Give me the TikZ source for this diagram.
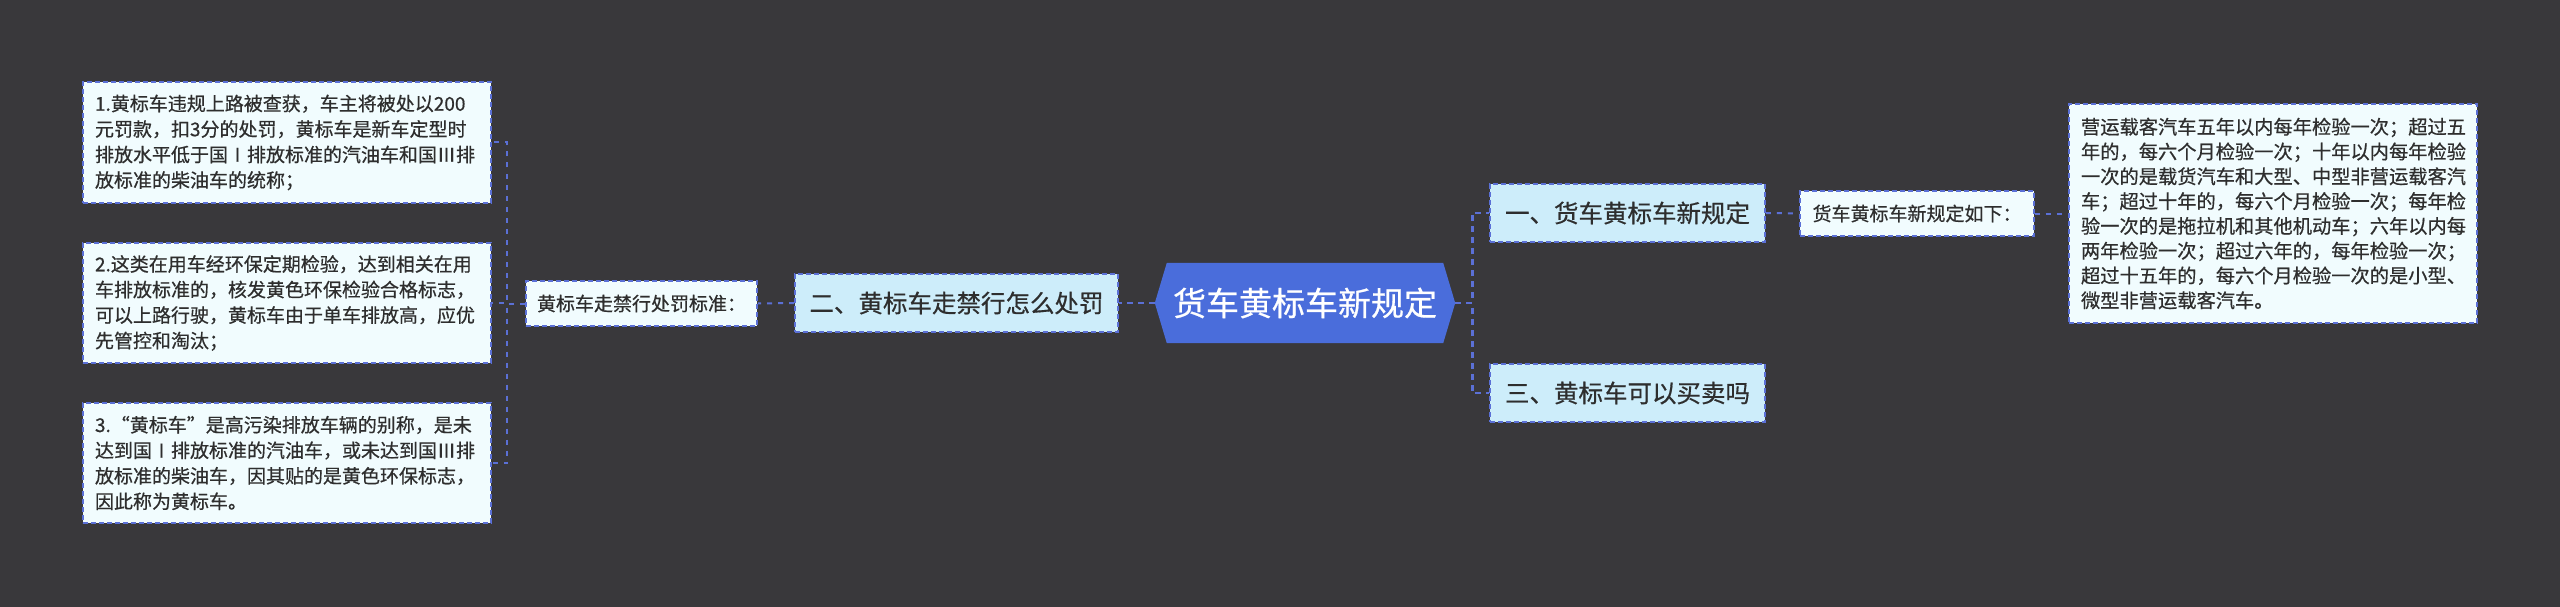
\documentclass[tikz,border=0pt]{standalone}
\usepackage{fontspec}
\setmainfont{Noto Sans CJK SC}[UprightFeatures={FakeBold=0.6}]
\newcommand\fwbox[2]{\makebox[1em][#1]{#2}}
\usetikzlibrary{backgrounds}
\definecolor{bgc}{HTML}{39383B}
\definecolor{linec}{HTML}{5B70D6}
\definecolor{leaffill}{HTML}{F1FCFE}
\definecolor{midfill}{HTML}{CDEDFA}
\definecolor{hexfill}{HTML}{4A6DDB}
\definecolor{txt}{HTML}{2E2E2E}
\begin{document}
\begin{tikzpicture}[x=1pt,y=-1pt,
  boxline/.style={draw=linec, line width=1.6pt, dash pattern=on 5pt off 3pt},
  leaf/.style={boxline, fill=leaffill, text=txt, font=\fontsize{19}{25.5}\selectfont,
    align=left, text width=384pt, inner xsep=12pt, inner ysep=0pt},
  bigleaf/.style={leaf, font=\fontsize{19.25}{24.8}\selectfont},
  lab/.style={boxline, fill=leaffill, text=txt, font=\fontsize{19}{22}\selectfont,
    inner sep=0pt, minimum height=45pt},
  mid/.style={boxline, fill=midfill, text=txt, font=\fontsize{24.5}{28}\selectfont,
    inner sep=0pt, minimum height=58pt},
  hexnode/.style={text=white, font=\fontsize{33}{36}\selectfont, inner sep=0pt,
    minimum width=300pt, minimum height=80pt},
  clink/.style={draw=linec, line width=2.6pt, dash pattern=on 6pt off 5pt},
  link/.style={draw=linec, line width=2pt, dash pattern=on 5pt off 6pt}
]
\useasboundingbox (0,0) rectangle (2560,607);

% center
\node[hexnode] (hex) at (1305,303) {货车黄标车新规定};

% level 1
\node[mid, minimum width=323pt] (m2) at (956.5,303) {二、黄标车走禁行怎么处罚};
\node[mid, minimum width=275pt] (m1) at (1627.5,213) {一、货车黄标车新规定};
\node[mid, minimum width=275pt] (m3) at (1627.5,393) {三、黄标车可以买卖吗};

% level 2
\node[lab, minimum width=231pt] (lb) at (641.5,303.5) {黄标车走禁行处罚标准：};
\node[lab, minimum width=234pt] (r1) at (1917,213.5) {货车黄标车新规定如下：};

% leaves
\node[leaf, minimum height=121pt] (l1) at (287,142.5) {1.黄标车违规上路被查获，车主将被处以200\\元罚款，扣3分的处罚，黄标车是新车定型时\\排放水平低于国\fwbox{c}{Ⅰ}排放标准的汽油车和国\fwbox{c}{Ⅲ}排\\放标准的柴油车的统称；};
\node[leaf, minimum height=120pt] (l2) at (287,303) {2.这类在用车经环保定期检验，达到相关在用\\车排放标准的，核发黄色环保检验合格标志，\\可以上路行驶，黄标车由于单车排放高，应优\\先管控和淘汰；};
\node[leaf, minimum height=120pt] (l3) at (287,463) {3.\fwbox{r}{“}黄标车\fwbox{l}{”}是高污染排放车辆的别称，是未\\达到国\fwbox{c}{Ⅰ}排放标准的汽油车，或未达到国\fwbox{c}{Ⅲ}排\\放标准的柴油车，因其贴的是黄色环保标志，\\因此称为黄标车。};
\node[bigleaf, minimum height=219pt] (big) at (2273,213.5) {营运载客汽车五年以内每年检验一次；超过五\\年的，每六个月检验一次；十年以内每年检验\\一次的是载货汽车和大型、中型非营运载客汽\\车；超过十年的，每六个月检验一次；每年检\\验一次的是拖拉机和其他机动车；六年以内每\\两年检验一次；超过六年的，每年检验一次；\\超过十五年的，每六个月检验一次的是小型、\\微型非营运载客汽车。};

\begin{scope}[on background layer]
  \fill[bgc] (0,0) rectangle (2560,607);
  \fill[hexfill] (hex.west) -- ([xshift=12pt]hex.north west) -- ([xshift=-12pt]hex.north east)
    -- (hex.east) -- ([xshift=-12pt]hex.south east) -- ([xshift=12pt]hex.south west) -- cycle;
  % connectors
  \draw[clink] (hex.west) -- (m2.east);
  \draw[clink] (hex.east) -- ++(17,0) |- (m1.west);
  \draw[clink] (hex.east) -- ++(17,0) |- (m3.west);
  \draw[link] (m2.west) -- (lb.east);
  \draw[link] (lb.west) -- ++(-18,0) |- (l1.east);
  \draw[link] (lb.west) -- ++(-18,0) |- (l2.east);
  \draw[link] (lb.west) -- ++(-18,0) |- (l3.east);
  \draw[link] (m1.east) -- (r1.west);
  \draw[link] (r1.east) -- (big.west);
\end{scope}
\end{tikzpicture}
\end{document}
